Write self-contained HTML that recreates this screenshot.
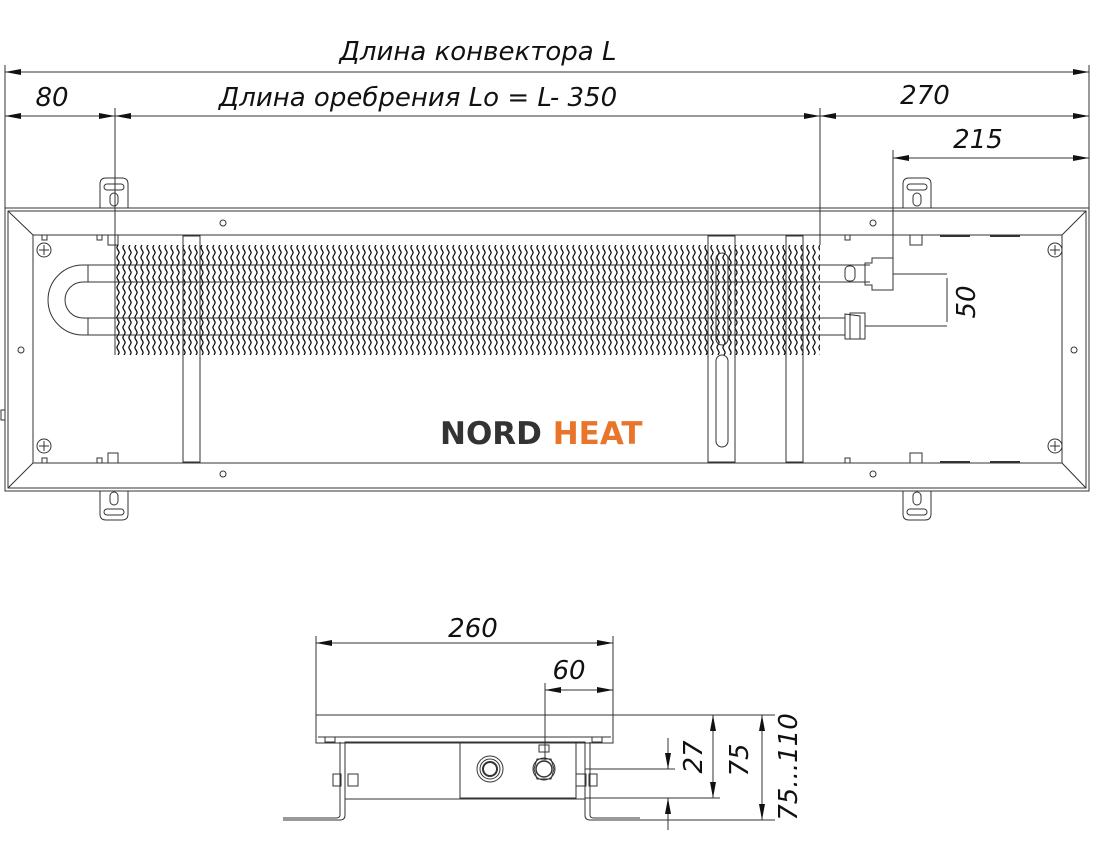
<!DOCTYPE html>
<html><head><meta charset="utf-8"><style>
html,body{margin:0;padding:0;background:#fff;}
svg{display:block;}
text{font-family:"DejaVu Sans","Liberation Sans",sans-serif;font-style:italic;fill:#111;}
</style></head><body>
<svg width="1100" height="868" viewBox="0 0 1100 868" xmlns="http://www.w3.org/2000/svg">
<defs>
<marker id="a" viewBox="0 0 16 6" refX="16" refY="3" markerWidth="16" markerHeight="6" orient="auto-start-reverse" markerUnits="userSpaceOnUse"><path d="M0,0 L16,3 L0,6 z" fill="#111"/></marker>
<pattern id="fin" x="115" y="245" width="6" height="10" patternUnits="userSpaceOnUse">
<path d="M3,0 C1.5,2.5 1.5,2.5 3,5 C4.5,7.5 4.5,7.5 3,10" fill="none" stroke="#111" stroke-width="1.3"/>
</pattern>
</defs>
<g fill="none" stroke="#333" stroke-width="1">
<line x1="5" y1="65" x2="5" y2="208"/>
<line x1="1089" y1="65" x2="1089" y2="208"/>
<line x1="5" y1="72" x2="1089" y2="72" marker-start="url(#a)" marker-end="url(#a)"/>
<line x1="5" y1="116" x2="115" y2="116" marker-start="url(#a)" marker-end="url(#a)"/>
<line x1="115" y1="116" x2="820" y2="116" marker-start="url(#a)" marker-end="url(#a)"/>
<line x1="820" y1="116" x2="1089" y2="116" marker-start="url(#a)" marker-end="url(#a)"/>
<line x1="115" y1="108" x2="115" y2="245"/>
<line x1="820" y1="108" x2="820" y2="245"/>
<line x1="893" y1="150" x2="893" y2="270"/>
<line x1="893" y1="158" x2="1089" y2="158" marker-start="url(#a)" marker-end="url(#a)"/>
<rect x="5" y="208" width="1084" height="283"/>
<rect x="8" y="211" width="1078" height="277"/>
<rect x="33" y="235" width="1029" height="228"/>
<line x1="8" y1="211" x2="33" y2="235"/><line x1="1086" y1="211" x2="1062" y2="235"/>
<line x1="8" y1="488" x2="33" y2="463"/><line x1="1086" y1="488" x2="1062" y2="463"/>
<rect x="1" y="410" width="4" height="10"/>
<g>
<path d="M100,208 V184 Q100,178 106,178 H122 Q128,178 128,184 V208"/><rect x="104" y="184" width="20" height="6" rx="3"/><rect x="110" y="193" width="8" height="13" rx="4"/>
<path d="M903,208 V184 Q903,178 909,178 H925 Q931,178 931,184 V208"/><rect x="907" y="184" width="20" height="6" rx="3"/><rect x="913" y="193" width="8" height="13" rx="4"/>
<path d="M100,491 V514 Q100,520 106,520 H122 Q128,520 128,514 V491"/><rect x="104" y="509" width="20" height="6" rx="3"/><rect x="110" y="492" width="8" height="13" rx="4"/>
<path d="M903,491 V514 Q903,520 909,520 H925 Q931,520 931,514 V491"/><rect x="907" y="509" width="20" height="6" rx="3"/><rect x="913" y="492" width="8" height="13" rx="4"/>
</g>
<g>
<circle cx="44" cy="250" r="7"/><path d="M44,245v10M39,250h10"/>
<circle cx="1055" cy="250" r="7"/><path d="M1055,245v10M1050,250h10"/>
<circle cx="44" cy="446" r="7"/><path d="M44,441v10M39,446h10"/>
<circle cx="1055" cy="446" r="7"/><path d="M1055,441v10M1050,446h10"/>
<circle cx="223" cy="223" r="3"/><circle cx="873" cy="223" r="3"/>
<circle cx="223" cy="474" r="3"/><circle cx="873" cy="474" r="3"/>
<circle cx="21" cy="350" r="3"/><circle cx="1074" cy="350" r="3"/>
</g>
<rect x="42" y="235" width="5" height="5"/><rect x="97" y="235" width="5" height="5"/><rect x="108" y="235" width="10" height="10"/>
<rect x="42" y="458" width="5" height="5"/><rect x="97" y="458" width="5" height="5"/><rect x="108" y="453" width="10" height="10"/>
<rect x="910" y="235" width="12" height="10"/><rect x="910" y="453" width="12" height="10"/>
<rect x="845" y="235" width="5" height="5"/><rect x="845" y="458" width="5" height="5"/>
<path d="M940,236h30M990,236h30M940,462h30M990,462h30" stroke-width="2"/>
<rect x="115" y="245" width="705" height="110" fill="url(#fin)" stroke="none"/>
<line x1="115" y1="245" x2="115" y2="355"/>
<path d="M88,265 H820 M88,282 H820 M88,318 H820 M88,335 H820"/>
<path d="M88,265 H83 A35,35 0 0 0 83,335 H88 M88,282 H83 A18,18 0 0 0 83,318 H88"/>
<path d="M88,265 V282 M88,318 V335"/>
<path d="M820,265 H870 M820,282 H870 M820,318 H845 M820,335 H845"/>
<rect x="845" y="266" width="10" height="15" rx="4"/>
<path d="M865,263 H872 V258 H893 V290 H872 V285 H865 z"/>
<path d="M845,314 V339 H860 V316 Z"/><rect x="850" y="313" width="15" height="26"/>
<path d="M865,326 H947 M893,274 H947 M947,278 V322"/>
<rect x="183" y="236" width="17" height="226"/>
<rect x="708" y="236" width="27" height="226"/>
<rect x="716" y="253" width="12" height="92" rx="6"/><rect x="716" y="355" width="12" height="92" rx="6"/>
<rect x="786" y="236" width="17" height="226"/>
<line x1="116" y1="350" x2="116" y2="350"/>
<line x1="316" y1="636" x2="316" y2="715"/><line x1="613" y1="636" x2="613" y2="715"/>
<line x1="316" y1="643" x2="613" y2="643" marker-start="url(#a)" marker-end="url(#a)"/>
<line x1="545" y1="683" x2="545" y2="760"/>
<line x1="545" y1="690" x2="613" y2="690" marker-start="url(#a)" marker-end="url(#a)"/>
<rect x="316" y="715" width="297" height="28"/>
<line x1="318" y1="737" x2="611" y2="737"/>
<path d="M283,820 H340 Q345,820 345,815 V742 M340,742 V815 Q340,818 336,818 H283"/>
<path d="M640,820 H590 Q585,820 585,815 V742 M590,742 V815 Q590,818 594,818 H640"/>
<rect x="345" y="742" width="240" height="57"/>
<rect x="460" y="742" width="116" height="56"/>
<circle cx="490" cy="769" r="13"/><circle cx="490" cy="769" r="10"/><circle cx="490" cy="769" r="7" stroke-width="2"/>
<path d="M534,769 L537,759 H551 L554,769 L551,779 H537 Z"/>
<circle cx="544" cy="769" r="11"/><circle cx="544" cy="769" r="8" stroke-width="1.5"/>
<rect x="539" y="745" width="10" height="7"/>
<rect x="333" y="774" width="8" height="12"/><rect x="348" y="774" width="10" height="12"/>
<rect x="589" y="774" width="8" height="12"/><rect x="576" y="774" width="10" height="12"/>
<rect x="325" y="737" width="10" height="5"/><rect x="592" y="737" width="10" height="5"/>
<path d="M613,715 H775 M585,769 H675 M585,798 H720 M640,820 H775"/>
<line x1="668" y1="738" x2="668" y2="769" marker-end="url(#a)"/>
<line x1="668" y1="830" x2="668" y2="798" marker-end="url(#a)"/>
<line x1="713" y1="715" x2="713" y2="798" marker-start="url(#a)" marker-end="url(#a)"/>
<line x1="762" y1="715" x2="762" y2="820" marker-start="url(#a)" marker-end="url(#a)"/>
</g>
<text x="478" y="60" font-size="26" text-anchor="middle">Длина конвектора L</text>
<text x="52" y="106" font-size="26" text-anchor="middle">80</text>
<text x="418" y="106" font-size="26" text-anchor="middle">Длина оребрения Lo = L- 350</text>
<text x="925" y="104" font-size="26" text-anchor="middle">270</text>
<text x="978" y="148" font-size="26" text-anchor="middle">215</text>
<text transform="translate(975,302) rotate(-90)" font-size="26" text-anchor="middle">50</text>
<text x="473" y="637" font-size="26" text-anchor="middle">260</text>
<text x="569" y="679" font-size="26" text-anchor="middle">60</text>
<text transform="translate(702,757) rotate(-90)" font-size="26" text-anchor="middle">27</text>
<text transform="translate(748,760) rotate(-90)" font-size="26" text-anchor="middle">75</text>
<text transform="translate(797,767) rotate(-90)" font-size="26" text-anchor="middle">75...110</text>
<text x="440" y="444" font-size="31" font-weight="bold" style="font-style:normal;font-family:'DejaVu Sans',sans-serif" fill="#333"><tspan fill="#333">NORD</tspan> <tspan fill="#e8752a">HEAT</tspan></text>
</svg>
</body></html>
